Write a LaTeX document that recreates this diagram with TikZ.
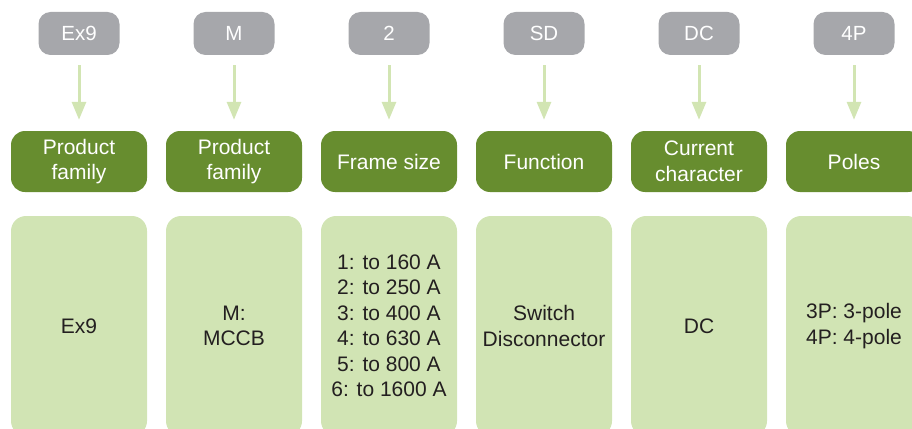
\documentclass[tikz,border=0pt]{standalone}
\usepackage{fontspec}
\setmainfont{Liberation Sans}
\usetikzlibrary{arrows.meta,positioning}
\definecolor{codegray}{HTML}{A6A7AB}
\definecolor{fielddark}{HTML}{678D2F}
\definecolor{valuelight}{HTML}{D1E4B4}
\definecolor{arrowlight}{HTML}{D2E5B3}
\definecolor{valuetext}{HTML}{231F20}

\begin{document}
\begin{tikzpicture}[x=1pt,y=-1pt,
    codebox/.style={fill=codegray,rounded corners=12pt,minimum width=81pt,minimum height=43pt,
      text=white,font=\fontsize{20.5}{24}\selectfont,inner sep=0pt},
    fieldbox/.style={fill=fielddark,rounded corners=14pt,minimum width=136pt,minimum height=61pt,
      text=white,align=center,font=\fontsize{21}{25.5}\selectfont,inner sep=0pt},
    valuebox/.style={fill=valuelight,rounded corners=15pt,minimum width=136pt,minimum height=220pt,
      text=valuetext,align=center,font=\fontsize{21}{25.5}\selectfont,inner sep=0pt},
    codearrow/.style={draw=arrowlight,line width=3pt,-{Triangle[width=14pt,length=18pt]},
      shorten <=10pt,shorten >=11pt}]
  \useasboundingbox (0,0) rectangle (912,428);
  \clip (0,0) rectangle (912,428);
  \foreach \i/\code/\field/\val in {
      1/Ex9/{Product\\family}/Ex9,
      2/M/{Product\\family}/{M:\\MCCB},
      3/2/{Frame size}/{1: to 160 A\\2: to 250 A\\3: to 400 A\\4: to 630 A\\5: to 800 A\\6: to 1600 A},
      4/SD/Function/{Switch\\Disconnector},
      5/DC/{Current\\character}/DC,
      6/4P/Poles/{3P: 3-pole\\4P: 4-pole}} {
    \node[codebox] (c\i) at ({79+155*(\i-1)},33.5) {\code};
    \node[fieldbox] (f\i) at ({79+155*(\i-1)},161.5) {\field};
    \node[valuebox] (v\i) at ({79+155*(\i-1)},326) {\val};
    \draw[codearrow] (c\i) -- (f\i);
  }
\end{tikzpicture}
\end{document}
